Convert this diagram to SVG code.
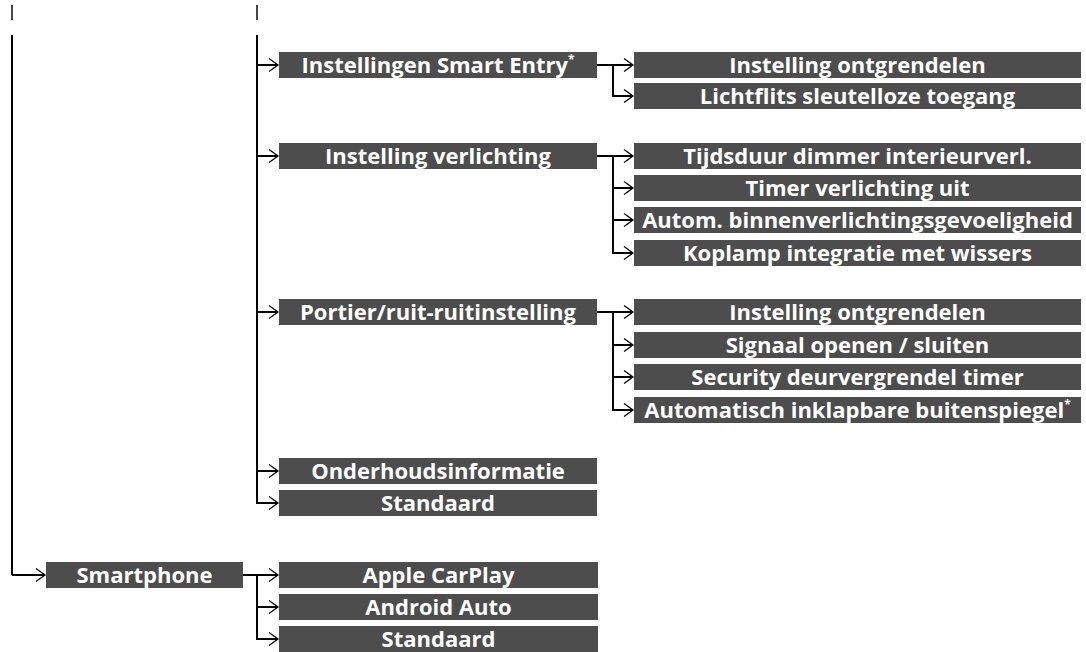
<svg xmlns="http://www.w3.org/2000/svg" width="1086" height="652" viewBox="0 0 1086 652">
<style>
.box{fill:#4d4d4d}
.t{font-family:"Open Sans","Noto Sans",sans-serif;font-weight:bold;font-size:22px;fill:#fff;text-anchor:middle}
.s{font-size:12px}
.ln{stroke:#000;stroke-width:2;fill:none}
.ar{stroke:#000;stroke-width:2;fill:none;marker-end:url(#arr)}
.tick{stroke:#333;stroke-width:1.8}
</style>
<defs>
<marker id="arr" markerUnits="userSpaceOnUse" markerWidth="12" markerHeight="16" refX="10" refY="7" orient="auto" viewBox="0 0 12 14">
<path d="M1,0.5 L10,7 L1,13.5" fill="none" stroke="#000" stroke-width="1.3"/>
</marker>
</defs>
<g id="connectors">
<line class="tick" x1="12" y1="5" x2="12" y2="20"/>
<line class="tick" x1="257" y1="5" x2="257" y2="20"/>
<path class="ln" d="M12,35 V575"/>
<path class="ar" d="M12,575 H45"/>
<path class="ln" d="M257,35 V503"/>
<path class="ar" d="M257,65 H278"/>
<path class="ar" d="M257,156 H278"/>
<path class="ar" d="M257,312 H278"/>
<path class="ar" d="M257,471 H278"/>
<path class="ar" d="M256,503 H278"/>
<path class="ar" d="M597,65 H633"/>
<path class="ar" d="M613,64 V96 H633"/>
<path class="ar" d="M597,156 H633"/>
<path class="ln" d="M613,156 V253"/>
<path class="ar" d="M613,188 H633"/>
<path class="ar" d="M613,220 H633"/>
<path class="ar" d="M612,253 H633"/>
<path class="ar" d="M597,312 H633"/>
<path class="ln" d="M613,312 V410"/>
<path class="ar" d="M613,345 H633"/>
<path class="ar" d="M613,377 H633"/>
<path class="ar" d="M612,410 H633"/>
<path class="ar" d="M243,575 H278"/>
<path class="ln" d="M257,575 V639"/>
<path class="ar" d="M257,607 H278"/>
<path class="ar" d="M256,639 H278"/>
</g>
<g id="n-smartentry"><rect class="box" x="279" y="52" width="318" height="26"/><text class="t" x="438" y="73">Instellingen Smart Entry<tspan class="s" dy="-9">*</tspan></text></g>
<g id="n-se1"><rect class="box" x="634" y="52" width="447" height="26"/><text class="t" x="857.5" y="73">Instelling ontgrendelen</text></g>
<g id="n-se2"><rect class="box" x="634" y="83" width="447" height="26"/><text class="t" x="857.5" y="104">Lichtflits sleutelloze toegang</text></g>
<g id="n-verl"><rect class="box" x="279" y="143" width="318" height="26"/><text class="t" x="438" y="164">Instelling verlichting</text></g>
<g id="n-v1"><rect class="box" x="634" y="143" width="447" height="26"/><text class="t" x="857.5" y="164">Tijdsduur dimmer interieurverl.</text></g>
<g id="n-v2"><rect class="box" x="634" y="175" width="447" height="26"/><text class="t" x="857.5" y="196">Timer verlichting uit</text></g>
<g id="n-v3"><rect class="box" x="634" y="207" width="447" height="26"/><text class="t" x="857.5" y="228">Autom. binnenverlichtingsgevoeligheid</text></g>
<g id="n-v4"><rect class="box" x="634" y="240" width="447" height="26"/><text class="t" x="857.5" y="261">Koplamp integratie met wissers</text></g>
<g id="n-portier"><rect class="box" x="279" y="299" width="318" height="26"/><text class="t" x="438" y="320">Portier/ruit-ruitinstelling</text></g>
<g id="n-p1"><rect class="box" x="634" y="299" width="447" height="26"/><text class="t" x="857.5" y="320">Instelling ontgrendelen</text></g>
<g id="n-p2"><rect class="box" x="634" y="332" width="447" height="26"/><text class="t" x="857.5" y="353">Signaal openen / sluiten</text></g>
<g id="n-p3"><rect class="box" x="634" y="364" width="447" height="26"/><text class="t" x="857.5" y="385">Security deurvergrendel timer</text></g>
<g id="n-p4"><rect class="box" x="634" y="397" width="447" height="26"/><text class="t" x="857.5" y="418">Automatisch inklapbare buitenspiegel<tspan class="s" dy="-9">*</tspan></text></g>
<g id="n-onderhoud"><rect class="box" x="279" y="458" width="318" height="26"/><text class="t" x="438" y="479">Onderhoudsinformatie</text></g>
<g id="n-standaard1"><rect class="box" x="279" y="490" width="318" height="26"/><text class="t" x="438" y="511">Standaard</text></g>
<g id="n-smartphone"><rect class="box" x="46" y="562" width="197" height="26"/><text class="t" x="144.5" y="583">Smartphone</text></g>
<g id="n-carplay"><rect class="box" x="279" y="562" width="319" height="26"/><text class="t" x="438.5" y="583">Apple CarPlay</text></g>
<g id="n-android"><rect class="box" x="279" y="594" width="319" height="26"/><text class="t" x="438.5" y="615">Android Auto</text></g>
<g id="n-standaard2"><rect class="box" x="279" y="626" width="319" height="26"/><text class="t" x="438.5" y="647">Standaard</text></g>
</svg>
